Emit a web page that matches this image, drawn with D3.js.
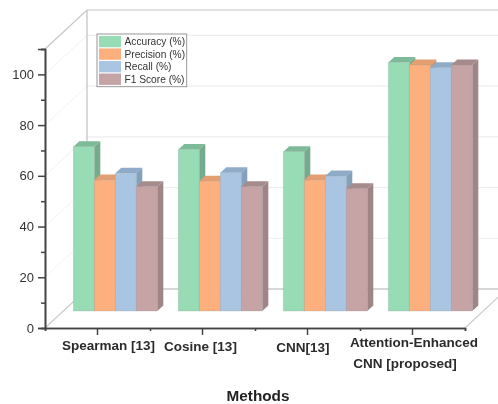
<!DOCTYPE html>
<html>
<head>
<meta charset="utf-8">
<script src="https://cdn.jsdelivr.net/npm/d3@7"></script>
<style>
  html, body { margin: 0; background: #fff; }
  svg { display: block; filter: blur(0.45px); font-family: "Liberation Sans", Arial, sans-serif; }
</style>
</head>
<body>
<div id="chart"></div>
<script>
var methods = ['Spearman [13]', 'Cosine [13]', 'CNN[13]', 'Attention-Enhanced CNN [proposed]'];
var seriesNames = ['Accuracy (%)', 'Precision (%)', 'Recall (%)', 'F1 Score (%)'];
var accuracy = [64.8, 63.7, 62.8, 98];
var precision = [51.6, 51.2, 51.6, 97];
var recall = [54.3, 54.5, 53.2, 95.9];
var f1score = [49, 49, 48.2, 97];
var yMajor = [0, 20, 40, 60, 80, 100];
var yMinor = [10, 30, 50, 70, 90, 110];

var allSeries = [accuracy, precision, recall, f1score];
var front = ['#98dcb6', '#fdb07d', '#a9c5e2', '#c6a3a5'];
var topFace = ['#7dbb98', '#e39f72', '#8fabc9', '#a58b8c'];
var sideFace = ['#74ab8c', '#d2946a', '#85a0bb', '#a08586'];

var w = 498, h = 404;
var svg = d3.select('#chart').append('svg').attr('width', w).attr('height', h);

var y = d3.scaleLinear().domain([0, 110]).range([328, 49]);
var x = d3.scaleBand().domain(methods).range([45, 465]);
var xEdges = d3.scaleLinear().domain([0, 4]).range([45, 465]);
var xBar = d3.scaleBand().domain(d3.range(4)).range([0, 84]);

// depth of the 3d box, and of the plane the bars stand on
var depthX = 42, depthY = 39;
var barX = 28.3, barY = 17;
var sideX = 6, sideY = 5.5;

// walls
var wall = svg.append('g').attr('fill', 'none');

yMajor.slice(1).forEach(function(v) {
  wall.append('line')
    .attr('x1', 87).attr('x2', w)
    .attr('y1', y(v) - depthY).attr('y2', y(v) - depthY)
    .attr('stroke', '#eeeeee').attr('stroke-width', 1.2);
  wall.append('line')
    .attr('x1', 45).attr('x2', 87)
    .attr('y1', y(v)).attr('y2', y(v) - depthY)
    .attr('stroke', '#f2f2f2');
});

wall.append('path')
  .attr('d', 'M45,' + y(110) + 'L87,' + (y(110) - depthY) + 'H' + w)
  .attr('stroke', '#c6c6c6').attr('stroke-width', 1.2);
wall.append('path')
  .attr('d', 'M87,' + (y(110) - depthY) + 'V' + (y(0) - depthY) + 'H' + w)
  .attr('stroke', '#cacaca').attr('stroke-width', 1.4);
wall.append('line')
  .attr('x1', 45).attr('y1', y(0)).attr('x2', 87).attr('y2', y(0) - depthY)
  .attr('stroke', '#cacaca').attr('stroke-width', 1.1);
wall.append('line')
  .attr('x1', 465).attr('y1', y(0)).attr('x2', 465 + depthX).attr('y2', y(0) - depthY)
  .attr('stroke', '#cacaca').attr('stroke-width', 1.1);

// bars, left to right so each front covers the side of the one before
methods.forEach(function(m, i) {
  var g = svg.append('g')
    .attr('transform', 'translate(' + (x(m) + barX) + ',0)');

  allSeries.forEach(function(values, s) {
    var x0 = xBar(s), x1 = x0 + xBar.bandwidth();
    var top = y(values[i]) - barY;
    var base = y(0) - barY;

    g.append('path')
      .attr('d', 'M' + x0 + ',' + top + 'L' + (x0 + sideX) + ',' + (top - sideY) +
        'H' + (x1 + sideX) + 'L' + x1 + ',' + top + 'Z')
      .attr('fill', topFace[s]);
    g.append('path')
      .attr('d', 'M' + x1 + ',' + top + 'L' + (x1 + sideX) + ',' + (top - sideY) +
        'V' + (base - sideY) + 'L' + x1 + ',' + base + 'Z')
      .attr('fill', sideFace[s]);
    g.append('rect')
      .attr('x', x0).attr('y', top)
      .attr('width', xBar.bandwidth()).attr('height', base - top)
      .attr('fill', front[s])
      .attr('stroke', '#9a9a9a').attr('stroke-opacity', 0.35).attr('stroke-width', 0.7);
  });
});

// axes
var yAxis = svg.append('g').attr('transform', 'translate(45,0)')
  .call(d3.axisLeft(y).tickValues(yMajor).tickSize(7).tickPadding(4).tickFormat(d3.format('d')));
var yAxisMinor = svg.append('g').attr('transform', 'translate(45,0)')
  .call(d3.axisLeft(y).tickValues(yMinor).tickSize(4).tickFormat(''));
var xAxis = svg.append('g').attr('transform', 'translate(0,' + y(0) + ')')
  .call(d3.axisBottom(x).tickSize(7).tickSizeOuter(0).tickFormat(''));
var xAxisMinor = svg.append('g').attr('transform', 'translate(0,' + y(0) + ')')
  .call(d3.axisBottom(xEdges).ticks(4).tickSize(3).tickFormat(''));

[yAxis, yAxisMinor, xAxis, xAxisMinor].forEach(function(a) {
  a.selectAll('.domain').attr('stroke', '#444').attr('stroke-width', 1.6);
  a.selectAll('line').attr('stroke', '#444').attr('stroke-width', 1.5);
});
yAxis.selectAll('text').attr('font-size', 13).attr('fill', '#333');
yAxis.attr('font-family', null);
yAxisMinor.attr('font-family', null);

// category labels sit by hand in the original, not under their ticks
var labelLines = [['Spearman [13]'], ['Cosine [13]'], ['CNN[13]'], ['Attention-Enhanced', 'CNN [proposed]']];
var labelX = [[108.5], [200.5], [303], [414, 405]];
var labelY = [[349.5], [350.5], [351.5], [346.7, 367.7]];
labelLines.forEach(function(lines, i) {
  lines.forEach(function(t, j) {
    svg.append('text')
      .attr('x', labelX[i][j]).attr('y', labelY[i][j])
      .attr('text-anchor', 'middle')
      .attr('font-size', 13.5).attr('font-weight', 'bold').attr('fill', '#2b2b2b')
      .text(t);
  });
});

svg.append('text')
  .attr('x', 258).attr('y', 400.7)
  .attr('text-anchor', 'middle')
  .attr('font-size', 15.3).attr('font-weight', 'bold').attr('fill', '#222')
  .text('Methods');

// legend
var legend = svg.append('g');
legend.append('rect')
  .attr('x', 97).attr('y', 34).attr('width', 89.7).attr('height', 52.7)
  .attr('fill', '#fff').attr('stroke', '#8c8c8c').attr('stroke-width', 0.9);

var legendRow = d3.scaleBand().domain(seriesNames).range([35.5, 85.7]);
seriesNames.forEach(function(name, s) {
  legend.append('rect')
    .attr('x', 99).attr('y', legendRow(name) + 0.4)
    .attr('width', 22).attr('height', legendRow.bandwidth() - 1.2)
    .attr('fill', front[s]);
  legend.append('text')
    .attr('x', 124.5).attr('y', legendRow(name) + 9.8)
    .attr('font-size', 10.2).attr('fill', '#333')
    .text(name);
});
</script>
</body>
</html>
